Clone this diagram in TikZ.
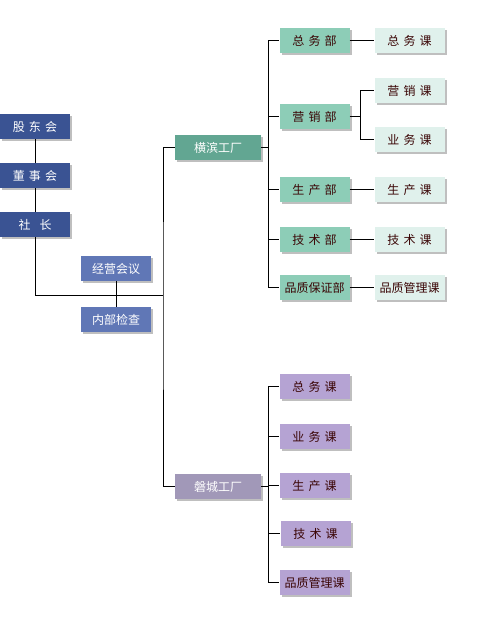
\documentclass[tikz,border=0pt]{standalone}
\usepackage{fontspec}
\newfontfamily\cjk{Noto Sans CJK SC}
\usetikzlibrary{positioning,shadows}
\definecolor{topblue}{HTML}{3A5393}
\definecolor{midblue}{HTML}{6077B6}
\definecolor{plantgreen}{HTML}{62A692}
\definecolor{deptgreen}{HTML}{8DCDB7}
\definecolor{kagreen}{HTML}{E0F1EC}
\definecolor{plantgray}{HTML}{A198B8}
\definecolor{kapurple}{HTML}{B5A3D3}
\definecolor{textbrown}{HTML}{3A0505}
\newcommand{\zsp}{\hspace{0.35em}}
\tikzset{font=\cjk\fontsize{12}{14}\selectfont}
\tikzset{
	box/.style={minimum width=70pt, minimum height=25pt, inner sep=0pt,
		drop shadow={shadow xshift=2pt, shadow yshift=-2pt, fill=black, opacity=0.25}},
	top/.style={box, fill=topblue, text=white},
	mid/.style={box, fill=midblue, text=white},
	plant/.style={box, minimum width=86pt, text=white},
	bu/.style={box, fill=deptgreen, text=textbrown},
	ka/.style={box, fill=kagreen, text=textbrown},
	pka/.style={box, fill=kapurple, text=textbrown},
	link/.style={line width=1pt, black}
}

\begin{document}
\begin{tikzpicture}[x=1pt,y=-1pt]
	\useasboundingbox (0,0) rectangle (497,640);
	\begin{scope}
		\node[top] (gd) at (35, 126.5) {股\zsp 东\zsp 会};
		\node[top] (dsh) at (35, 175.5) {董\zsp 事\zsp 会};
		\node[top] (sz) at (35, 224.5) {社\hspace{0.75em}长};
		\node[mid] (jy) at (116, 268.5) {经营会议};
		\node[mid] (nb) at (116, 319.5) {内部检查};

		\node[plant, fill=plantgreen] (yb) at (218, 147.5) {横滨工厂};
		\node[plant, fill=plantgray] (pc) at (218, 486.5) {磐城工厂};

		\node[bu] (zwb) at (314.5, 40.5) {总\zsp 务\zsp 部};
		\node[bu] (yxb) at (314.5, 116.5) {营\zsp 销\zsp 部};
		\node[bu] (scb) at (314.5, 189.5) {生\zsp 产\zsp 部};
		\node[bu] (jsb) at (314.5, 239.5) {技\zsp 术\zsp 部};
		\node[bu] (pzb) at (314.5, 287.5) {品质保证部};

		\node[ka] (zwk) at (409.5, 40.5) {总\zsp 务\zsp 课};
		\node[ka] (yxk) at (409.5, 90.5) {营\zsp 销\zsp 课};
		\node[ka] (ywk) at (409.5, 139.5) {业\zsp 务\zsp 课};
		\node[ka] (sck) at (409.5, 189.5) {生\zsp 产\zsp 课};
		\node[ka] (jsk) at (409.5, 239.5) {技\zsp 术\zsp 课};
		\node[ka] (pzk) at (409.5, 287.5) {品质管理课};

		\node[pka] (pzwk) at (314.5, 386.5) {总\zsp 务\zsp 课};
		\node[pka] (pywk) at (314.5, 436.5) {业\zsp 务\zsp 课};
		\node[pka] (psck) at (314.5, 485.5) {生\zsp 产\zsp 课};
		\node[pka] (pjsk) at (315.5, 533.5) {技\zsp 术\zsp 课};
		\node[pka] (ppzk) at (314.5, 582.5) {品质管理课};

		\coordinate (trunk) at (163, 295);
		\coordinate (ybr) at (268, 147.5);
		\coordinate (yxr) at (360, 116.5);
		\coordinate (pcr) at (268, 486.5);

		\draw[link](gd) -- (dsh);
		\draw[link](dsh) -- (sz);
		\draw[link](sz) |- (trunk);
		\draw[link](jy) -- (nb);
		\draw[link](yb.west) -| (trunk) |- (pc.west);

		\draw[link](yb.east) -- (ybr);
		\draw[link](ybr) |- (zwb.west);
		\draw[link](ybr) |- (yxb.west);
		\draw[link](ybr) |- (scb.west);
		\draw[link](ybr) |- (jsb.west);
		\draw[link](ybr) |- (pzb.west);

		\draw[link](zwb) -- (zwk);
		\draw[link](yxb.east) -- (yxr);
		\draw[link](yxr) |- (yxk.west);
		\draw[link](yxr) |- (ywk.west);
		\draw[link](scb) -- (sck);
		\draw[link](jsb) -- (jsk);
		\draw[link](pzb) -- (pzk);

		\draw[link](pc.east) -- (pcr);
		\draw[link](pcr) |- (pzwk.west);
		\draw[link](pcr) |- (pywk.west);
		\draw[link](pcr) |- (psck.west);
		\draw[link](pcr) |- (pjsk.west);
		\draw[link](pcr) |- (ppzk.west);
	\end{scope}
\end{tikzpicture}
\end{document}
